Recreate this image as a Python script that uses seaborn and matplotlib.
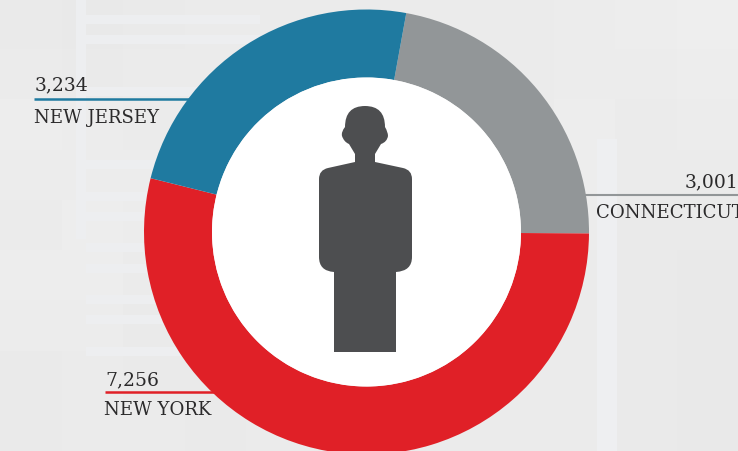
import matplotlib.pyplot as plt
import numpy as np
import seaborn as sns
from matplotlib.patches import PathPatch
from matplotlib.path import Path

states = ["CONNECTICUT", "NEW YORK", "NEW JERSEY"]
values = [3001, 7256, 3234]
value_labels = ["3,001", "7,256", "3,234"]
colors = ["#929698", "#e02027", "#1f7aa0"]

# rough greys of the blurred photo behind the chart, 9 rows x 12 columns
bg_rows = [
    [234, 233, 234, 235, 235, 235, 235, 235, 235, 236, 237, 238],
    [235, 234, 235, 235, 235, 235, 235, 235, 235, 236, 236, 237],
    [237, 236, 235, 235, 235, 235, 235, 235, 235, 237, 235, 236],
    [236, 236, 236, 235, 235, 235, 235, 235, 235, 237, 235, 235],
    [235, 237, 236, 235, 235, 235, 235, 235, 235, 236, 234, 234],
    [237, 237, 235, 234, 235, 235, 235, 235, 235, 235, 234, 233],
    [236, 236, 234, 234, 235, 235, 235, 235, 235, 235, 234, 233],
    [234, 235, 234, 234, 235, 235, 235, 235, 235, 235, 234, 233],
    [234, 235, 235, 234, 235, 235, 235, 235, 235, 235, 234, 233],
]
# lighter streaks left of the ring: pixel row of each band
streak_rows = [20, 40, 92, 165, 197, 217, 248, 269, 300, 320, 352]
streak_grey = "#edeef0"
column_grey = "#eeeff1"

sns.set_theme(style="white")
plt.rcParams['font.family'] = ['DejaVu Serif']

W, H = 738, 452
fig = plt.figure(figsize=(W / 100, H / 100), dpi=100)

ax_bg = fig.add_axes([0, 0, 1, 1])
sns.heatmap(np.array(bg_rows), ax=ax_bg, cmap="gray", vmin=0, vmax=255, cbar=False,
            xticklabels=False, yticklabels=False)

ax = fig.add_axes([0, 0, 1, 1])
ax.patch.set_alpha(0)


def y_(py):
    return H - py


cx, cy, radius = 366.5, y_(233), 222.5
ax.pie(values, colors=colors, startangle=79.7, counterclock=False, center=(cx, cy), radius=radius,
       wedgeprops=dict(width=radius - 154.5, linewidth=0, zorder=3))
ax.add_patch(plt.Circle((cx, cy), 154.5, color="white", lw=0, zorder=4))
ax.set_xlim(0, W)
ax.set_ylim(0, H)
ax.set_aspect("auto")
ax.axis("off")

ax.fill_between([76, 86], y_(240), H, color=streak_grey, lw=0, zorder=1)
for row in streak_rows:
    ax.fill_between([86, 260], y_(row + 4.5), y_(row - 4.5), color=streak_grey, lw=0, zorder=1)
ax.fill_between([597, 617], 0, y_(140), color=column_grey, lw=0, zorder=1)

ink = "#2b2a2b"
label_size = 13.1
value_size = 13.5
# Connecticut
ax.plot([582, 738], [y_(196)] * 2, color=colors[0], lw=1.5, zorder=2, solid_capstyle="butt")
ax.text(738, y_(187), value_labels[0], ha="right", va="baseline", fontsize=value_size, color=ink)
ax.text(596, y_(218), states[0], ha="left", va="baseline", fontsize=label_size, color=ink, clip_on=True)
# New York
ax.plot([105, 225], [y_(392.5)] * 2, color=colors[1], lw=1.8, zorder=2, solid_capstyle="butt")
ax.text(105, y_(385), value_labels[1], ha="left", va="baseline", fontsize=value_size, color=ink)
ax.text(104, y_(415), states[1], ha="left", va="baseline", fontsize=label_size, color=ink)
# New Jersey
ax.plot([34, 200], [y_(99.5)] * 2, color=colors[2], lw=1.8, zorder=2, solid_capstyle="butt")
ax.text(35, y_(90), value_labels[2], ha="left", va="baseline", fontsize=value_size, color=ink)
ax.text(34, y_(123), states[2], ha="left", va="baseline", fontsize=label_size, color=ink)

# person icon
M, L, C = Path.MOVETO, Path.LINETO, Path.CURVE3
icon = [
    (M, 365, 107), (C, 345, 107), (L, 345, 128), (C, 341, 133), (L, 342, 137), (C, 344, 143), (L, 349, 145),
    (L, 355, 155), (L, 355, 163), (L, 328, 169), (C, 319, 171), (L, 319, 180), (L, 319, 258),
    (C, 319, 272), (L, 334, 273), (L, 334, 353), (L, 396, 353), (L, 396, 273), (C, 412, 272), (L, 412, 258),
    (L, 412, 180), (C, 412, 171), (L, 403, 169), (L, 375, 163), (L, 375, 155), (L, 381, 145),
    (C, 387, 143), (L, 388, 137), (C, 388, 133), (L, 385, 128), (C, 385, 107), (L, 365, 107),
]
# CURVE3 needs control + end point pairs, expand them from the list above
verts, codes = [], []
i = 0
while i < len(icon):
    code, x, y = icon[i]
    if code == C:
        verts += [(x, y_(y)), (icon[i + 1][1], y_(icon[i + 1][2]))]
        codes += [C, C]
        i += 2
    else:
        verts.append((x, y_(y)))
        codes.append(code)
        i += 1
ax.add_patch(PathPatch(Path(verts, codes), facecolor="#4d4e50", lw=0, zorder=5))

fig.savefig("out.png", dpi=100)
plt.close(fig)
